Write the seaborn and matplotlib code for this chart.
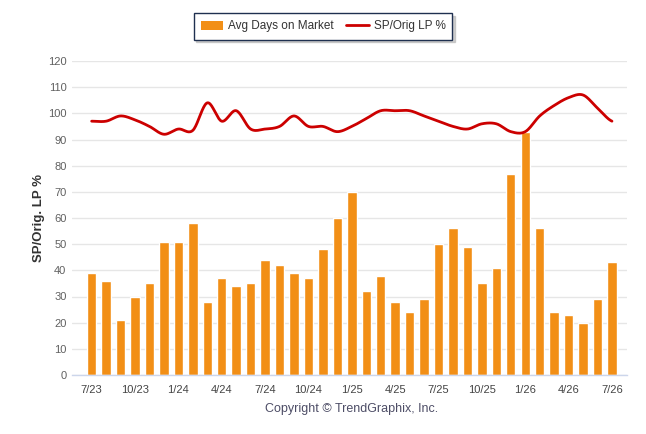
import numpy as np
import pandas as pd
import matplotlib
matplotlib.use('Agg')
import matplotlib.pyplot as plt
import seaborn as sns
from matplotlib.patches import Patch
from matplotlib.lines import Line2D

months = ['7/23', '8/23', '9/23', '10/23', '11/23', '12/23', '1/24', '2/24', '3/24',
          '4/24', '5/24', '6/24', '7/24', '8/24', '9/24', '10/24', '11/24', '12/24',
          '1/25', '2/25', '3/25', '4/25', '5/25', '6/25', '7/25', '8/25', '9/25',
          '10/25', '11/25', '12/25', '1/26', '2/26', '3/26', '4/26', '5/26', '6/26', '7/26']
avg_days = [39, 36, 21, 30, 35, 51, 51, 58, 28, 37, 34, 35, 44, 42, 39, 37, 48, 60,
            70, 32, 38, 28, 24, 29, 50, 56, 49, 35, 41, 77, 93, 56, 24, 23, 20, 29, 43]
sp_orig = [97, 97, 99, 97.5, 95, 92, 94, 93.5, 104, 97, 101, 94, 94, 95, 99, 95, 95, 93,
           95, 98, 101, 101, 101, 99, 97, 95, 94, 96, 96, 93, 93, 99, 103, 106, 107, 102, 97]
tick_labels = months[::3]

sns.set_theme(style='white')
plt.rcParams['font.family'] = ['Liberation Sans', 'DejaVu Sans']

df = pd.DataFrame({'month': months, 'days': avg_days, 'sp': sp_orig})
df['i'] = np.arange(len(df))


def catmull_rom(y, n=20):
    # smooth curve through the points, like the spline line of the original
    p = np.concatenate([[y[0]], y, [y[-1]]])
    xs, ys = [], []
    for k in range(len(y) - 1):
        p0, p1, p2, p3 = p[k], p[k + 1], p[k + 2], p[k + 3]
        t = np.linspace(0, 1, n, endpoint=False)
        seg = 0.5 * ((2 * p1) + (-p0 + p2) * t + (2 * p0 - 5 * p1 + 4 * p2 - p3) * t ** 2
                     + (-p0 + 3 * p1 - 3 * p2 + p3) * t ** 3)
        xs.append(k + t)
        ys.append(seg)
    xs.append([len(y) - 1])
    ys.append([y[-1]])
    return np.concatenate(xs), np.concatenate(ys)


fig = plt.figure(figsize=(6.46, 4.34), dpi=100)
ax = fig.add_axes([72 / 646, 59 / 434, 555 / 646, 314 / 434])

sns.barplot(data=df, x='i', y='days', color='#F28F16', saturation=1, width=0.65,
            ax=ax, zorder=2)
sx, sy = catmull_rom(np.array(sp_orig, dtype=float))
ax.plot(sx, sy, color='#CC0000', linewidth=2, zorder=3, solid_capstyle='round')

ax.set_xlim(-1.36, len(months) - 1 + 1.04)
ax.set_ylim(0, 120)
ax.set_yticks(np.arange(0, 121, 10))
ax.yaxis.grid(True, color='#e6e6e6', linewidth=1, zorder=0)
ax.set_axisbelow(True)
for s in ['top', 'right', 'left']:
    ax.spines[s].set_visible(False)
ax.spines['bottom'].set_color('#ccd6eb')
ax.spines['bottom'].set_linewidth(1)

ax.set_xticks(np.arange(0, len(months), 3))
ax.set_xticklabels(tick_labels)
ax.tick_params(axis='x', length=5, color='#ccd6eb', labelsize=8, labelcolor='#444444', pad=2)
ax.tick_params(axis='y', length=0, labelsize=8, labelcolor='#606060', pad=4)
ax.set_xlabel('')
ax.set_ylabel('SP/Orig. LP %', fontsize=9.5, fontweight='bold', color='#333333')
ax.yaxis.set_label_coords(-27 / 555, 0.5)

handles = [Patch(facecolor='#F28F16', edgecolor='none'),
           Line2D([0], [0], color='#CC0000', linewidth=2)]
leg = fig.legend(handles, ['Avg Days on Market', 'SP/Orig LP %'], loc='center',
                 bbox_to_anchor=(323 / 646, 1 - 26.5 / 434), ncol=2, fontsize=8.5,
                 frameon=True, fancybox=False,
                 shadow={'color': '#b0b0b0', 'alpha': 0.6, 'ox': 2, 'oy': -2},
                 handlelength=1.9, handleheight=0.9, columnspacing=1.1, borderpad=0.6,
                 handletextpad=0.4)
leg.get_frame().set_edgecolor('#1f3050')
leg.get_frame().set_linewidth(1)
for t in leg.get_texts():
    t.set_color('#333333')

fig.text(352 / 646, 1 - 409 / 434, 'Copyright © TrendGraphix, Inc.', ha='center',
         va='center', fontsize=9, color='#4d4d66')

fig.savefig('out.png', dpi=100)
